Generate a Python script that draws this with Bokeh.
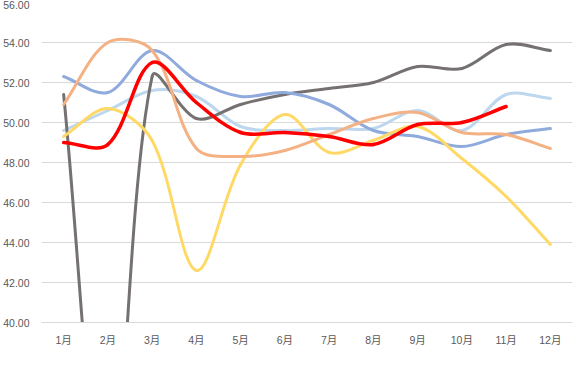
import math
from bokeh.plotting import figure
from bokeh.models import ColumnDataSource, Legend, LegendItem, FixedTicker, Range1d, CustomJSTickFormatter
from bokeh.embed import file_html
from bokeh.resources import INLINE

months = ["1月", "2月", "3月", "4月", "5月", "6月", "7月", "8月", "9月", "10月", "11月", "12月"]
years = ["2019年", "2020年", "2021年", "2022年", "2023年", "2024年"]

v2019 = [49.6, 50.6, 51.6, 51.3, 49.8, 49.6, 49.7, 49.7, 50.6, 49.6, 51.4, 51.2]
v2020 = [51.4, 29.6, 52.3, 50.2, 50.9, 51.4, 51.7, 52.0, 52.8, 52.7, 53.9, 53.6]
v2021 = [52.3, 51.5, 53.6, 52.1, 51.3, 51.5, 50.9, 49.6, 49.3, 48.8, 49.4, 49.7]
v2022 = [49.3, 50.7, 49.1, 42.6, 47.9, 50.4, 48.5, 49.1, 49.8, 48.2, 46.3, 43.9]
v2023 = [50.9, 54.0, 53.6, 48.7, 48.3, 48.6, 49.4, 50.2, 50.5, 49.5, 49.4, 48.7]
v2024 = [49.0, 48.9, 53.0, 51.0, 49.5, 49.5, 49.3, 48.9, 49.9, 50.0, 50.8]

series = [v2019, v2020, v2021, v2022, v2023, v2024]
colors = ["#BDD7EE", "#767171", "#8FAADC", "#FFD966", "#F4B183", "#FF0000"]
widths = [3, 3, 3, 3, 3, 3.5]

FONT = "'Liberation Sans', 'Noto Sans CJK SC'"
FSIZE = "10.5px"

# approximate on-screen scale (px per x step, px per y unit) used to weight the smoothing
SX, SY = 44.25, 20.0


def smooth_segments(vals):
    """Bezier control points for a spreadsheet-style smoothed line (length-weighted tangents)."""
    n = len(vals)
    xs = list(range(n))

    def dist(a, b):
        return math.hypot((xs[a] - xs[b]) * SX, (vals[a] - vals[b]) * SY)

    def ctrl(i):
        i0 = i - 1 if i > 0 else i
        i2 = i + 1 if i + 1 < n else i
        d01, d12 = dist(i0, i), dist(i, i2)
        tot = d01 + d12
        fa = d01 / tot / 3 if tot else 0
        fb = d12 / tot / 3 if tot else 0
        tx, ty = xs[i2] - xs[i0], vals[i2] - vals[i0]
        before = (xs[i] - fa * tx, vals[i] - fa * ty)
        after = (xs[i] + fb * tx, vals[i] + fb * ty)
        return before, after

    cps = [ctrl(i) for i in range(n)]
    d = dict(x0=[], y0=[], x1=[], y1=[], cx0=[], cy0=[], cx1=[], cy1=[])
    for i in range(n - 1):
        d["x0"].append(xs[i]); d["y0"].append(vals[i])
        d["x1"].append(xs[i + 1]); d["y1"].append(vals[i + 1])
        d["cx0"].append(cps[i][1][0]); d["cy0"].append(cps[i][1][1])
        d["cx1"].append(cps[i + 1][0][0]); d["cy1"].append(cps[i + 1][0][1])
    return d


p = figure(width=570, height=370, frame_width=531, frame_height=320,
           output_backend="svg", toolbar_location=None,
           x_range=Range1d(-0.5, 11.5), y_range=Range1d(40, 56),
           min_border_left=36, min_border_right=3, min_border_top=2, min_border_bottom=0)
p.outline_line_color = None
p.background_fill_color = "white"
p.border_fill_color = "white"

items = []
for name, vals, col, w in zip(years, series, colors, widths):
    src = ColumnDataSource(smooth_segments(vals))
    r = p.bezier(x0="x0", y0="y0", x1="x1", y1="y1", cx0="cx0", cy0="cy0", cx1="cx1", cy1="cy1",
                 source=src, line_color=col, line_width=w, line_cap="round")
    items.append(LegendItem(label=name, renderers=[r]))

# axes
p.xaxis.axis_label = None
p.yaxis.axis_label = None
p.xaxis.ticker = FixedTicker(ticks=list(range(12)))
p.xaxis.major_label_overrides = {i: m for i, m in enumerate(months)}
p.xaxis.axis_line_color = "#D9D9D9"
p.xaxis.major_tick_line_color = None
p.xaxis.minor_tick_line_color = None
p.xaxis.major_tick_out = 0
p.xaxis.major_tick_in = 0
p.xaxis.major_label_standoff = 11
p.xaxis.major_label_text_font = FONT
p.xaxis.major_label_text_font_size = FSIZE
p.xaxis.major_label_text_color = "#595959"

p.yaxis.ticker = FixedTicker(ticks=list(range(40, 57, 2)))
p.yaxis.formatter = CustomJSTickFormatter(code="return tick.toFixed(2);")
p.yaxis.axis_line_color = None
p.yaxis.major_tick_line_color = None
p.yaxis.minor_tick_line_color = None
p.yaxis.major_tick_out = 0
p.yaxis.major_tick_in = 0
p.yaxis.major_label_standoff = 12
p.yaxis.major_label_text_font = FONT
p.yaxis.major_label_text_font_size = FSIZE
p.yaxis.major_label_text_color = "#595959"

p.xgrid.grid_line_color = None
p.ygrid.grid_line_color = "#D9D9D9"
p.ygrid.grid_line_width = 1

legend = Legend(items=items, orientation="horizontal", location=(17, 0),
                padding=0, margin=0, spacing=15, glyph_width=28, glyph_height=12,
                label_height=14, label_standoff=3, label_text_font=FONT,
                label_text_font_size=FSIZE, label_text_color="#595959",
                border_line_color=None, background_fill_alpha=0)
p.add_layout(legend, "below")

open("out.html", "w").write(file_html(p, INLINE))
